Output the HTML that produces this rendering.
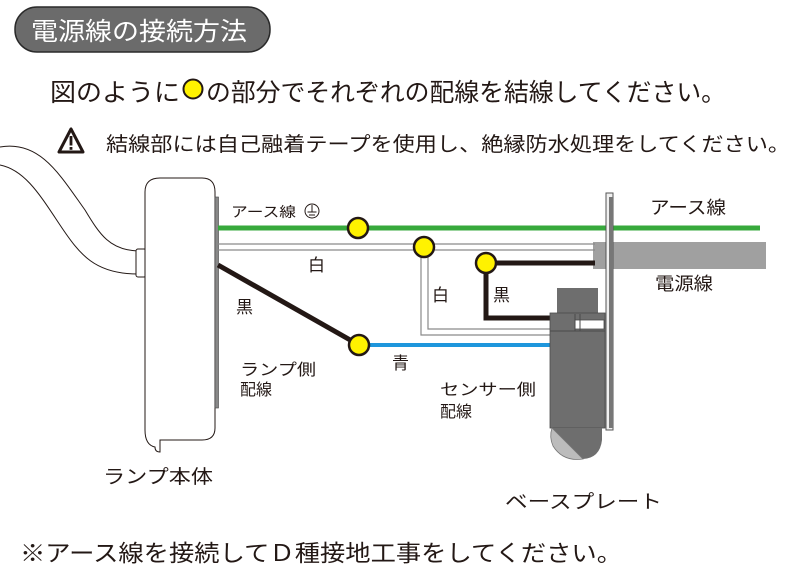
<!DOCTYPE html>
<html><head><meta charset="utf-8"><style>
html,body{margin:0;padding:0;background:#fff;}
svg{display:block;}
text{font-family:"Liberation Sans","Noto Sans CJK JP",sans-serif;fill:#231815;}
</style></head><body>
<svg width="800" height="577" viewBox="0 0 800 577" xmlns="http://www.w3.org/2000/svg">
<rect x="15" y="7" width="255" height="45" rx="22" fill="#6b6b6b" stroke="#2a2a2a" stroke-width="1.5"/>
<text x="31" y="40" font-size="25" style="fill:#fff" textLength="216" lengthAdjust="spacingAndGlyphs">電源線の接続方法</text>
<text x="50" y="101" font-size="25" textLength="130" lengthAdjust="spacingAndGlyphs">図のように</text>
<circle cx="193" cy="89" r="9.5" fill="#fff200" stroke="#231815" stroke-width="2"/>
<text x="206" y="101" font-size="25" textLength="520" lengthAdjust="spacingAndGlyphs">の部分でそれぞれの配線を結線してください。</text>
<polygon points="71,129 59,152 83,152" fill="none" stroke="#231815" stroke-width="3" stroke-linejoin="round"/>
<rect x="69.6" y="136" width="2.8" height="9.5" fill="#231815"/>
<rect x="69.6" y="147" width="2.8" height="2.8" fill="#231815"/>
<text x="106" y="151" font-size="20" textLength="684" lengthAdjust="spacingAndGlyphs">結線部には自己融着テープを使用し、絶縁防水処理をしてください。</text>
<path d="M0,147 C40,140 60,175 85,210 C100,235 110,250 138,251" fill="none" stroke="#231815" stroke-width="1"/>
<path d="M0,165 C25,170 40,195 60,225 C80,255 95,274 138,274" fill="none" stroke="#231815" stroke-width="1"/>
<rect x="136" y="249" width="10" height="28" rx="2" fill="#fff" stroke="#231815" stroke-width="1"/>
<path d="M160,178 H202 Q215,178 215,192 V428 Q215,440 202,440 H160 V452 Q155,452 155,447 Q145,445 145,430 V192 Q145,178 160,178 Z" fill="#fff" stroke="#231815" stroke-width="1"/>
<rect x="215" y="197" width="3.5" height="211" fill="#888" stroke="#444" stroke-width="0.6"/>
<rect x="593" y="242" width="173" height="27" fill="#a0a0a0"/>
<line x1="218" y1="228" x2="760" y2="228" stroke="#37a93c" stroke-width="5"/>
<path d="M218,244 H595 M218,250 H595" stroke="#8a8a8a" stroke-width="1.2" fill="none"/>
<path d="M421,250 V335 H551 M428,250 V329 H551" stroke="#8a8a8a" stroke-width="1.2" fill="none"/>
<line x1="218" y1="265" x2="359" y2="345" stroke="#231815" stroke-width="5"/>
<path d="M486,263 H595 M486,263 V318 H551" stroke="#231815" stroke-width="5" fill="none"/>
<line x1="359" y1="345" x2="551" y2="345" stroke="#1e96dc" stroke-width="4"/>
<rect x="606" y="193" width="7" height="237" fill="#f0f0f0" stroke="#555" stroke-width="1"/>
<rect x="609" y="197" width="4" height="231" fill="#777"/>
<rect x="557" y="288" width="41" height="26" fill="#6e6e6e"/>
<rect x="550" y="313" width="55" height="115" fill="#6e6e6e" stroke="#4a4a4a" stroke-width="0.8"/>
<line x1="550" y1="331" x2="605" y2="331" stroke="#4a4a4a" stroke-width="1"/>
<rect x="575" y="320" width="29" height="9" fill="#fff" stroke="#4a4a4a" stroke-width="0.8"/>
<line x1="575" y1="314" x2="575" y2="331" stroke="#4a4a4a"/>
<line x1="580" y1="314" x2="580" y2="331" stroke="#4a4a4a"/>
<path d="M552,428 H602 V440 Q600,458 583,459 Z" fill="#6e6e6e"/>
<path d="M552,428 L583,459 Q563,462 553,446 Q549,437 552,428 Z" fill="#bcbcbc" stroke="#777" stroke-width="0.8"/>
<circle cx="358" cy="228" r="10" fill="#fff200" stroke="#231815" stroke-width="2.5"/>
<circle cx="424" cy="247" r="10" fill="#fff200" stroke="#231815" stroke-width="2.5"/>
<circle cx="486" cy="263" r="10" fill="#fff200" stroke="#231815" stroke-width="2.5"/>
<circle cx="359" cy="345" r="10" fill="#fff200" stroke="#231815" stroke-width="2.5"/>
<text x="231" y="217" font-size="14" textLength="65" lengthAdjust="spacingAndGlyphs">アース線</text>
<circle cx="312" cy="211" r="7" fill="none" stroke="#231815" stroke-width="1"/>
<path d="M312,205 V212 M307.5,212 H316.5 M309,215 H315" stroke="#231815" stroke-width="1"/>
<text x="308" y="271" font-size="17">白</text>
<text x="236" y="313" font-size="17">黒</text>
<text x="240" y="375" font-size="16" textLength="76" lengthAdjust="spacingAndGlyphs">ランプ側</text>
<text x="240" y="395" font-size="16">配線</text>
<text x="392" y="369" font-size="17">青</text>
<text x="432" y="301" font-size="17">白</text>
<text x="493" y="301" font-size="17">黒</text>
<text x="440" y="395" font-size="16" textLength="96" lengthAdjust="spacingAndGlyphs">センサー側</text>
<text x="440" y="417" font-size="16">配線</text>
<text x="650" y="214" font-size="18" textLength="76" lengthAdjust="spacingAndGlyphs">アース線</text>
<text x="655" y="290" font-size="18" textLength="58" lengthAdjust="spacingAndGlyphs">電源線</text>
<text x="103" y="483" font-size="19" textLength="110" lengthAdjust="spacingAndGlyphs">ランプ本体</text>
<text x="505" y="508" font-size="19" textLength="157" lengthAdjust="spacingAndGlyphs">ベースプレート</text>
<text x="20" y="561" font-size="23" textLength="602" lengthAdjust="spacingAndGlyphs">※アース線を接続してＤ種接地工事をしてください。</text>
</svg>
</body></html>
